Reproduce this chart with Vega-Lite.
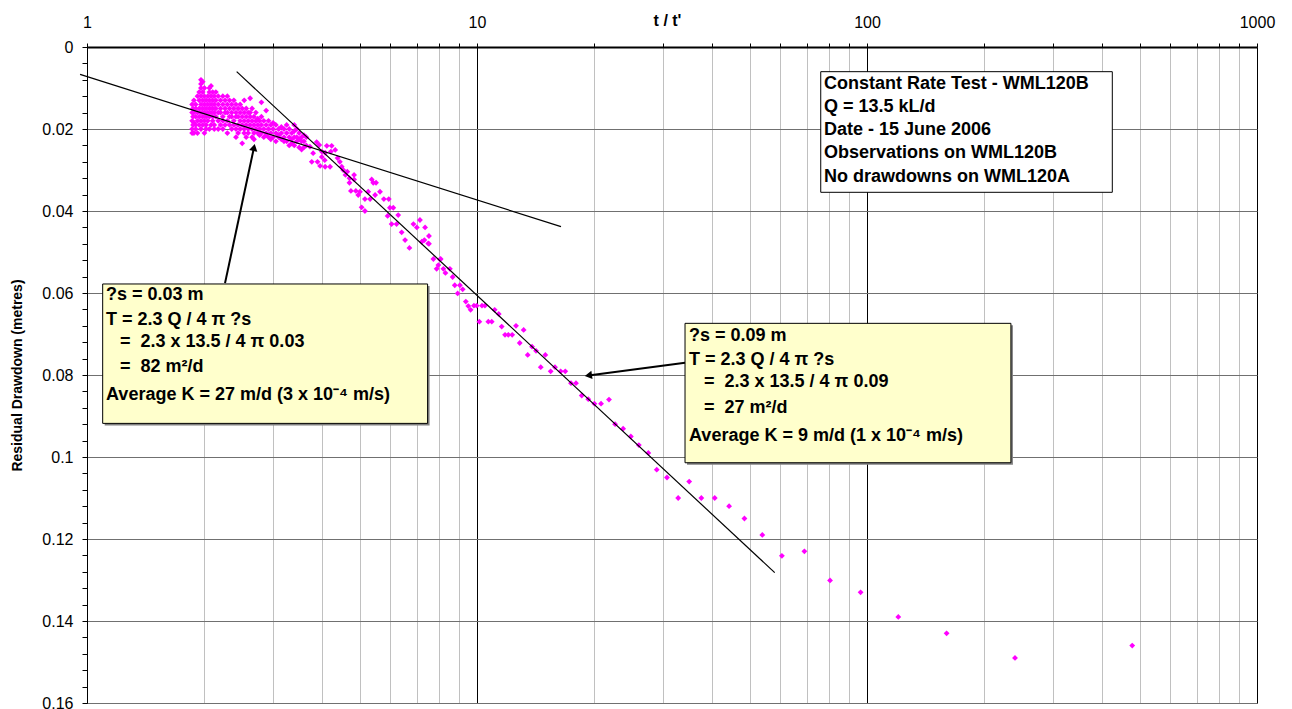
{
  "$schema": "https://vega.github.io/schema/vega-lite/v6.json",
  "width": 1170,
  "height": 656,
  "autosize": {"type": "none"},
  "padding": {"left": 87, "top": 47, "right": 35, "bottom": 6},
  "background": "white",
  "config": {
    "view": {"stroke": "#808080"},
    "font": "Liberation Sans",
    "axis": {"labelOverlap": false}
  },
  "datasets": {
    "obs": [
      {"t":1.86,"s":0.014},{"t":1.86,"s":0.016},{"t":1.86,"s":0.018},{"t":1.86,"s":0.020},{"t":1.86,"s":0.021},
      {"t":1.87,"s":0.015},{"t":1.87,"s":0.017},{"t":1.87,"s":0.019},
      {"t":1.88,"s":0.013},{"t":1.88,"s":0.016},{"t":1.88,"s":0.0185},{"t":1.88,"s":0.021},
      {"t":1.90,"s":0.014},{"t":1.90,"s":0.015},{"t":1.90,"s":0.017},{"t":1.90,"s":0.019},{"t":1.90,"s":0.020},
      {"t":1.92,"s":0.012},{"t":1.92,"s":0.016},{"t":1.92,"s":0.018},{"t":1.92,"s":0.021},
      {"t":1.94,"s":0.011},{"t":1.94,"s":0.013},{"t":1.94,"s":0.015},{"t":1.94,"s":0.017},{"t":1.94,"s":0.019},
      {"t":1.96,"s":0.008},{"t":1.96,"s":0.009},{"t":1.96,"s":0.010},{"t":1.96,"s":0.012},{"t":1.96,"s":0.014},{"t":1.96,"s":0.016},{"t":1.96,"s":0.018},{"t":1.96,"s":0.020},
      {"t":1.98,"s":0.0085},{"t":1.98,"s":0.011},{"t":1.98,"s":0.013},{"t":1.98,"s":0.015},{"t":1.98,"s":0.017},{"t":1.98,"s":0.019},
      {"t":2.00,"s":0.010},{"t":2.00,"s":0.012},{"t":2.00,"s":0.014},{"t":2.00,"s":0.016},{"t":2.00,"s":0.018},{"t":2.00,"s":0.021},
      {"t":2.02,"s":0.013},{"t":2.02,"s":0.015},{"t":2.02,"s":0.017},{"t":2.02,"s":0.019},{"t":2.02,"s":0.020},
      {"t":2.04,"s":0.012},{"t":2.04,"s":0.014},{"t":2.04,"s":0.016},{"t":2.04,"s":0.018},
      {"t":2.06,"s":0.010},{"t":2.06,"s":0.011},{"t":2.06,"s":0.013},{"t":2.06,"s":0.015},{"t":2.06,"s":0.017},{"t":2.06,"s":0.020},
      {"t":2.08,"s":0.0095},{"t":2.08,"s":0.012},{"t":2.08,"s":0.014},{"t":2.08,"s":0.016},{"t":2.08,"s":0.019},
      {"t":2.10,"s":0.011},{"t":2.10,"s":0.013},{"t":2.10,"s":0.015},{"t":2.10,"s":0.017},{"t":2.10,"s":0.018},
      {"t":2.12,"s":0.012},{"t":2.12,"s":0.014},{"t":2.12,"s":0.016},{"t":2.12,"s":0.019},{"t":2.12,"s":0.020},
      {"t":2.14,"s":0.011},{"t":2.14,"s":0.013},{"t":2.14,"s":0.015},{"t":2.14,"s":0.017},
      {"t":2.17,"s":0.012},{"t":2.17,"s":0.014},{"t":2.17,"s":0.016},{"t":2.17,"s":0.018},{"t":2.17,"s":0.020},
      {"t":2.20,"s":0.013},{"t":2.20,"s":0.015},{"t":2.20,"s":0.016},{"t":2.20,"s":0.019},
      {"t":2.23,"s":0.012},{"t":2.23,"s":0.014},{"t":2.23,"s":0.017},{"t":2.23,"s":0.018},{"t":2.23,"s":0.020},
      {"t":2.26,"s":0.013},{"t":2.26,"s":0.015},{"t":2.26,"s":0.016},{"t":2.26,"s":0.019},
      {"t":2.29,"s":0.012},{"t":2.29,"s":0.014},{"t":2.29,"s":0.016},{"t":2.29,"s":0.018},{"t":2.29,"s":0.021},
      {"t":2.32,"s":0.013},{"t":2.32,"s":0.015},{"t":2.32,"s":0.017},{"t":2.32,"s":0.019},
      {"t":2.35,"s":0.014},{"t":2.35,"s":0.016},{"t":2.35,"s":0.017},{"t":2.35,"s":0.020},
      {"t":2.38,"s":0.013},{"t":2.38,"s":0.015},{"t":2.38,"s":0.018},{"t":2.38,"s":0.019},
      {"t":2.41,"s":0.014},{"t":2.41,"s":0.016},{"t":2.41,"s":0.017},{"t":2.41,"s":0.020},{"t":2.41,"s":0.022},
      {"t":2.44,"s":0.015},{"t":2.44,"s":0.017},{"t":2.44,"s":0.019},{"t":2.44,"s":0.021},
      {"t":2.47,"s":0.014},{"t":2.47,"s":0.016},{"t":2.47,"s":0.018},{"t":2.47,"s":0.020},
      {"t":2.50,"s":0.015},{"t":2.50,"s":0.017},{"t":2.50,"s":0.019},{"t":2.50,"s":0.0235},
      {"t":2.53,"s":0.013},{"t":2.53,"s":0.016},{"t":2.53,"s":0.018},{"t":2.53,"s":0.020},{"t":2.53,"s":0.021},
      {"t":2.56,"s":0.015},{"t":2.56,"s":0.017},{"t":2.56,"s":0.019},{"t":2.56,"s":0.022},
      {"t":2.59,"s":0.016},{"t":2.59,"s":0.018},{"t":2.59,"s":0.020},{"t":2.59,"s":0.021},
      {"t":2.62,"s":0.0125},{"t":2.62,"s":0.016},{"t":2.62,"s":0.017},{"t":2.62,"s":0.019},
      {"t":2.65,"s":0.015},{"t":2.65,"s":0.018},{"t":2.65,"s":0.020},{"t":2.65,"s":0.022},
      {"t":2.68,"s":0.017},{"t":2.68,"s":0.019},{"t":2.68,"s":0.021},{"t":2.68,"s":0.0225},
      {"t":2.71,"s":0.016},{"t":2.71,"s":0.018},{"t":2.71,"s":0.020},
      {"t":2.74,"s":0.0175},{"t":2.74,"s":0.019},{"t":2.74,"s":0.021},
      {"t":2.77,"s":0.018},{"t":2.77,"s":0.020},{"t":2.77,"s":0.0215},
      {"t":2.80,"s":0.0135},{"t":2.80,"s":0.017},{"t":2.80,"s":0.019},{"t":2.80,"s":0.021},
      {"t":2.84,"s":0.018},{"t":2.84,"s":0.020},{"t":2.84,"s":0.022},
      {"t":2.88,"s":0.0155},{"t":2.88,"s":0.019},{"t":2.88,"s":0.021},{"t":2.88,"s":0.0215},
      {"t":2.92,"s":0.018},{"t":2.92,"s":0.020},{"t":2.92,"s":0.022},
      {"t":2.96,"s":0.019},{"t":2.96,"s":0.021},{"t":2.96,"s":0.0225},
      {"t":3.00,"s":0.0185},{"t":3.00,"s":0.020},{"t":3.00,"s":0.022},
      {"t":3.05,"s":0.019},{"t":3.05,"s":0.021},{"t":3.05,"s":0.023},
      {"t":3.10,"s":0.020},{"t":3.10,"s":0.0215},{"t":3.10,"s":0.022},
      {"t":3.15,"s":0.0195},{"t":3.15,"s":0.021},{"t":3.15,"s":0.0225},
      {"t":3.20,"s":0.020},{"t":3.20,"s":0.022},{"t":3.20,"s":0.023},
      {"t":3.25,"s":0.019},{"t":3.25,"s":0.021},{"t":3.25,"s":0.023},
      {"t":3.30,"s":0.020},{"t":3.30,"s":0.022},{"t":3.30,"s":0.024},
      {"t":3.35,"s":0.021},{"t":3.35,"s":0.0225},{"t":3.35,"s":0.0235},
      {"t":3.40,"s":0.019},{"t":3.40,"s":0.0205},{"t":3.40,"s":0.022},{"t":3.40,"s":0.024},
      {"t":3.45,"s":0.020},{"t":3.45,"s":0.022},{"t":3.45,"s":0.023},
      {"t":3.50,"s":0.021},{"t":3.50,"s":0.0225},{"t":3.50,"s":0.0245},
      {"t":3.55,"s":0.022},{"t":3.55,"s":0.023},{"t":3.55,"s":0.025},
      {"t":3.60,"s":0.0215},{"t":3.60,"s":0.023},{"t":3.60,"s":0.0245},
      {"t":3.65,"s":0.022},{"t":3.65,"s":0.024},
      {"t":3.73,"s":0.0243},{"t":3.80,"s":0.0259},{"t":3.88,"s":0.0232},{"t":3.94,"s":0.0239},{"t":4.00,"s":0.0255},{"t":4.08,"s":0.0258},
      {"t":3.77,"s":0.0280},{"t":3.90,"s":0.0280},{"t":4.00,"s":0.0268},{"t":4.07,"s":0.0276},{"t":3.96,"s":0.0290},{"t":4.08,"s":0.0292},
      {"t":4.12,"s":0.0241},{"t":4.24,"s":0.0241},{"t":4.22,"s":0.0255},{"t":4.20,"s":0.0292},{"t":4.33,"s":0.0251},{"t":4.39,"s":0.0271},
      {"t":4.45,"s":0.0280},{"t":4.50,"s":0.0292},{"t":4.54,"s":0.0300},{"t":4.60,"s":0.0312},{"t":4.65,"s":0.0304},{"t":4.71,"s":0.0320},
      {"t":4.71,"s":0.0331},{"t":4.84,"s":0.0312},{"t":4.84,"s":0.0323},{"t":4.75,"s":0.0351},{"t":4.89,"s":0.0351},{"t":4.96,"s":0.0361},
      {"t":5.01,"s":0.0353},{"t":5.06,"s":0.0391},{"t":5.16,"s":0.0400},{"t":5.16,"s":0.0371},{"t":5.26,"s":0.0353},{"t":5.37,"s":0.0323},
      {"t":5.42,"s":0.0331},{"t":5.51,"s":0.0331},{"t":5.32,"s":0.0371},{"t":5.48,"s":0.0361},{"t":5.64,"s":0.0353},{"t":5.77,"s":0.0371},
      {"t":5.94,"s":0.0371},{"t":5.98,"s":0.0392},{"t":6.10,"s":0.0392},{"t":5.90,"s":0.0412},{"t":6.04,"s":0.0432},{"t":6.22,"s":0.0432},
      {"t":6.28,"s":0.0410},{"t":6.41,"s":0.0452},{"t":6.54,"s":0.0471},{"t":6.71,"s":0.0490},{"t":6.87,"s":0.0432},{"t":7.01,"s":0.0440},
      {"t":7.14,"s":0.0422},{"t":7.36,"s":0.0440},{"t":7.53,"s":0.0461},{"t":7.33,"s":0.0471},{"t":7.50,"s":0.0479},{"t":8.04,"s":0.0518},
      {"t":7.22,"s":0.0475},{"t":7.53,"s":0.0480},{"t":7.73,"s":0.0517},{"t":8.07,"s":0.0517},{"t":7.96,"s":0.0532},{"t":7.88,"s":0.0541},
      {"t":8.20,"s":0.0541},{"t":8.30,"s":0.0551},{"t":8.52,"s":0.0541},{"t":8.66,"s":0.0561},{"t":8.77,"s":0.0581},{"t":9.04,"s":0.0581},
      {"t":9.19,"s":0.0591},{"t":8.92,"s":0.0601},{"t":9.36,"s":0.0621},{"t":9.50,"s":0.0632},{"t":9.63,"s":0.0641},{"t":9.82,"s":0.0631},
      {"t":9.98,"s":0.0631},{"t":10.14,"s":0.0670},{"t":10.30,"s":0.0631},{"t":10.48,"s":0.0631},{"t":10.69,"s":0.0670},{"t":10.91,"s":0.0670},
      {"t":11.10,"s":0.0641},{"t":11.37,"s":0.0651},{"t":11.57,"s":0.0682},{"t":11.80,"s":0.0702},{"t":12.03,"s":0.0702},{"t":12.31,"s":0.0702},
      {"t":12.59,"s":0.0680},{"t":12.87,"s":0.0722},{"t":13.17,"s":0.0690},{"t":13.49,"s":0.0751},{"t":13.84,"s":0.0731},{"t":14.17,"s":0.0741},
      {"t":14.57,"s":0.0781},{"t":14.97,"s":0.0751},{"t":15.45,"s":0.0791},{"t":15.85,"s":0.0781},{"t":16.39,"s":0.0791},{"t":16.84,"s":0.0791},
      {"t":17.42,"s":0.0820},{"t":17.94,"s":0.0820},{"t":18.56,"s":0.0850},{"t":19.29,"s":0.0859},{"t":20.0,"s":0.0870},{"t":20.8,"s":0.0870},
      {"t":21.8,"s":0.0860},{"t":22.6,"s":0.0920},{"t":23.7,"s":0.0931},{"t":24.8,"s":0.0950},{"t":26.0,"s":0.0971},{"t":27.5,"s":0.0990},
      {"t":28.9,"s":0.1031},{"t":30.7,"s":0.1050},{"t":32.8,"s":0.1100},{"t":35.0,"s":0.1060},{"t":37.6,"s":0.1100},{"t":40.7,"s":0.1100},
      {"t":44.3,"s":0.1120},{"t":48.5,"s":0.1150},{"t":53.9,"s":0.1190},{"t":60.5,"s":0.1241},{"t":69.1,"s":0.1230},{"t":80.4,"s":0.1301},
      {"t":96.3,"s":0.1330},{"t":120.3,"s":0.1390},{"t":160.0,"s":0.1430},{"t":239.6,"s":0.1490},{"t":478.7,"s":0.1460}
    ],
    "fits": [
      {"line":"early","t":0.96,"s":0.00666,"t2":16.42,"s2":0.0438},
      {"line":"late","t":2.42,"s":0.0060,"t2":58.0,"s2":0.1282}
    ],
    "arrows": [
      {"id":"a1","t":2.68,"s":0.0245,"t2":2.259,"s2":0.0576},
      {"id":"a2","t":19.3,"s":0.0801,"t2":34.15,"s2":0.0770}
    ],
    "boxes": [
      {"id":"b1","kind":"note","t":1.097,"t2":7.47,"s":0.0578,"s2":0.0918},
      {"id":"b2","kind":"note","t":34.15,"t2":233.9,"s":0.0674,"s2":0.1014},
      {"id":"b3","kind":"legend","t":76.1,"t2":425.6,"s":0.00602,"s2":0.03544}
    ],
    "notes": [
      {"t":1.119,"s":0.0605,"text":"?s = 0.03 m"},
      {"t":1.119,"s":0.0666,"text":"T = 2.3 Q / 4 π ?s"},
      {"t":1.215,"s":0.0719,"text":"=\u00a0 2.3 x 13.5 / 4 π 0.03"},
      {"t":1.215,"s":0.0780,"text":"=\u00a0 82 m²/d"},
      {"t":1.119,"s":0.0849,"text":"Average K = 27 m/d (3 x 10⁻⁴ m/s)"},
      {"t":34.97,"s":0.0705,"text":"?s = 0.09 m"},
      {"t":34.97,"s":0.0763,"text":"T = 2.3 Q / 4 π ?s"},
      {"t":38.2,"s":0.0816,"text":"=\u00a0 2.3 x 13.5 / 4 π 0.09"},
      {"t":38.2,"s":0.0881,"text":"=\u00a0 27 m²/d"},
      {"t":34.97,"s":0.0949,"text":"Average K = 9 m/d (1 x 10⁻⁴ m/s)"},
      {"t":77.6,"s":0.00902,"text":"Constant Rate Test - WML120B"},
      {"t":77.6,"s":0.01456,"text":"Q = 13.5 kL/d"},
      {"t":77.6,"s":0.02024,"text":"Date - 15 June 2006"},
      {"t":77.6,"s":0.02593,"text":"Observations on WML120B"},
      {"t":77.6,"s":0.03163,"text":"No drawdowns on WML120A"}
    ]
  },
  "encoding": {
    "x": {
      "field": "t", "type": "quantitative",
      "scale": {"type": "log", "domain": [1, 1000], "nice": false},
      "axis": {
        "orient": "top",
        "values": [1,2,3,4,5,6,7,8,9,10,20,30,40,50,60,70,80,90,100,200,300,400,500,600,700,800,900,1000],
        "labelExpr": "indexof([1,10,100,1000], datum.value) >= 0 ? format(datum.value, 'd') : ''",
        "labelFlush": false,
        "labelOverlap": false,
        "labelFontSize": 16,
        "labelColor": "#000000",
        "labelPadding": 13,
        "grid": true,
        "gridColor": {"condition": {"test": "indexof([1,10,100,1000], datum.value) >= 0", "value": "#000000"}, "value": "#C0C0C0"},
        "gridWidth": 1,
        "domainColor": "#000000",
        "domainWidth": 2,
        "tickColor": "#000000",
        "tickSize": 4,
        "title": "t / t'",
        "titleFontSize": 16,
        "titleFontWeight": "bold",
        "titleColor": "#000000",
        "titleX": 580,
        "titleY": -27,
        "titleAlign": "center",
        "titleBaseline": "middle"
      }
    },
    "y": {
      "field": "s", "type": "quantitative",
      "scale": {"domain": [0, 0.16], "reverse": true, "nice": false, "zero": false},
      "axis": {
        "values": [0,0.004,0.008,0.012,0.016,0.02,0.024,0.028,0.032,0.036,0.04,0.044,0.048,0.052,0.056,0.06,0.064,0.068,0.072,0.076,0.08,0.084,0.088,0.092,0.096,0.1,0.104,0.108,0.112,0.116,0.12,0.124,0.128,0.132,0.136,0.14,0.144,0.148,0.152,0.156,0.16],
        "labelExpr": "indexof([0,0.02,0.04,0.06,0.08,0.1,0.12,0.14,0.16], datum.value) >= 0 ? datum.label : ''",
        "format": "~g",
        "labelOverlap": false,
        "labelBound": false,
        "labelFontSize": 16,
        "labelColor": "#000000",
        "labelPadding": 9,
        "grid": true,
        "gridColor": "#707070",
        "gridOpacity": {"condition": {"test": "indexof([0,0.02,0.04,0.06,0.08,0.1,0.12,0.14,0.16], datum.value) >= 0", "value": 1}, "value": 0},
        "domainColor": "#000000",
        "domainWidth": 1,
        "tickColor": "#000000",
        "tickSize": 5,
        "title": "Residual Drawdown (metres)",
        "titleFontSize": 14,
        "titleFontWeight": "bold",
        "titleColor": "#000000",
        "titleAngle": -90,
        "titleX": -70,
        "titleY": 328,
        "titleAlign": "center",
        "titleBaseline": "middle"
      }
    }
  },
  "layer": [
    {
      "data": {"name": "obs"},
      "mark": {"type": "point", "shape": "diamond", "filled": true, "size": 34, "color": "#FF00FF", "opacity": 1}
    },
    {
      "data": {"name": "fits"},
      "mark": {"type": "rule", "color": "#000000", "strokeWidth": 1.2},
      "encoding": {
        "x2": {"field": "t2"},
        "y2": {"field": "s2"}
      }
    },
    {
      "data": {"name": "boxes"},
      "transform": [{"filter": "datum.kind === 'note'"}],
      "mark": {"type": "rect", "fill": "#808080", "xOffset": 2, "yOffset": 2, "x2Offset": 2, "y2Offset": 2},
      "encoding": {
        "x2": {"field": "t2"},
        "y2": {"field": "s2"}
      }
    },
    {
      "data": {"name": "boxes"},
      "mark": {"type": "rect", "stroke": "#000000", "strokeWidth": 1},
      "encoding": {
        "x2": {"field": "t2"},
        "y2": {"field": "s2"},
        "fill": {"condition": {"test": "datum.kind === 'legend'", "value": "#FFFFFF"}, "value": "#FFFFCC"}
      }
    },
    {
      "data": {"name": "notes"},
      "mark": {"type": "text", "align": "left", "baseline": "middle", "fontSize": 18, "fontWeight": "bold", "color": "#000000", "font": "Liberation Sans"},
      "encoding": {
        "text": {"field": "text"}
      }
    },
    {
      "data": {"name": "arrows"},
      "mark": {"type": "rule", "color": "#000000", "strokeWidth": 2},
      "encoding": {
        "x2": {"field": "t2"},
        "y2": {"field": "s2"}
      }
    },
    {
      "data": {"name": "arrows"},
      "mark": {"type": "point", "shape": "triangle-up", "filled": true, "size": 70, "color": "#000000", "opacity": 1},
      "encoding": {
        "angle": {"condition": {"test": "datum.id === 'a1'", "value": 12}, "value": 262}
      }
    }
  ]
}
